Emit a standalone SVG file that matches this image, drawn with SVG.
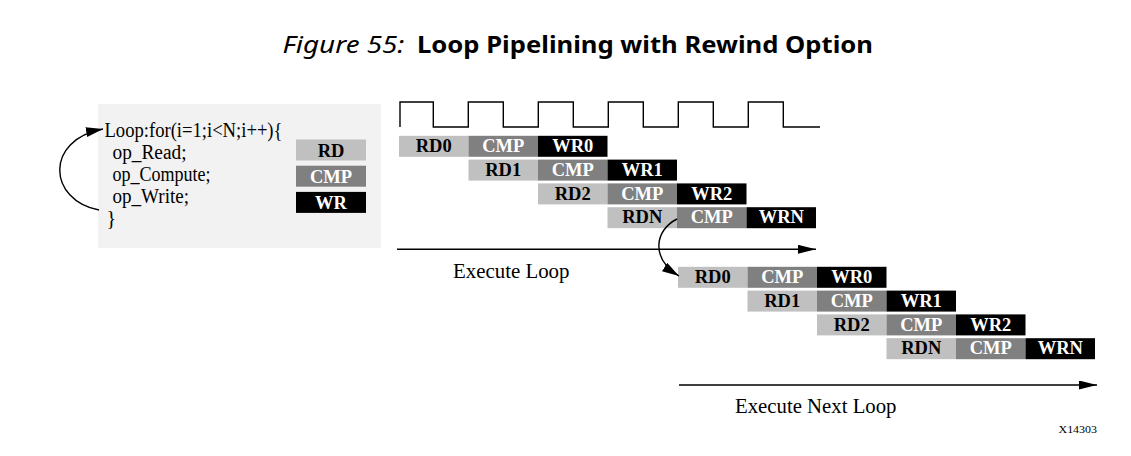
<svg xmlns="http://www.w3.org/2000/svg" width="1131" height="456" viewBox="0 0 1131 456">
<style>
.code{font-family:"Liberation Serif","Times New Roman",serif;font-size:20px;fill:#000}
.lbl{font-family:"Liberation Serif","Times New Roman",serif;font-size:18.5px;font-weight:bold;text-anchor:middle}
.cap{font-family:"Liberation Serif","Times New Roman",serif;font-size:20.5px;fill:#000}
.rd{fill:#c0c0c0}.cmp{fill:#808080}.wr{fill:#000}
.trd{fill:#000}.tcmp{fill:#fff}.twr{fill:#fff}
.ln{fill:none;stroke:#000;stroke-width:1.4}
</style>
<defs>
<marker id="ah" markerUnits="userSpaceOnUse" markerWidth="18" markerHeight="10" refX="18" refY="4.5" orient="auto">
<path d="M0,0 L18,4.5 L0,9 z" fill="#000"/>
</marker>
<marker id="ahc" markerUnits="userSpaceOnUse" markerWidth="17" markerHeight="11" refX="17" refY="5" orient="auto">
<path d="M0,0 L17,5 L0,10 z" fill="#000"/>
</marker>
</defs>
<rect width="1131" height="456" fill="#fff"/>
<g id="title">
<text x="282.5" y="53" font-family="'Noto Sans','Open Sans',sans-serif" font-size="23.5" font-style="italic" textLength="122" lengthAdjust="spacingAndGlyphs">Figure 55:</text>
<text x="417" y="53" font-family="'Noto Sans','Open Sans',sans-serif" font-size="23.5" font-weight="bold" textLength="456" lengthAdjust="spacingAndGlyphs">Loop Pipelining with Rewind Option</text>
</g>
<g id="code-box">
<rect x="98" y="104" width="283" height="144" fill="#f2f2f2"/>
<text class="code" x="104.5" y="136.5" textLength="178" lengthAdjust="spacingAndGlyphs">Loop:for(i=1;i&lt;N;i++){</text>
<text class="code" x="112.5" y="158.5" textLength="74" lengthAdjust="spacingAndGlyphs">op_Read;</text>
<text class="code" x="112.5" y="180.5" textLength="98" lengthAdjust="spacingAndGlyphs">op_Compute;</text>
<text class="code" x="112.5" y="202.5" textLength="76.5" lengthAdjust="spacingAndGlyphs">op_Write;</text>
<text class="code" x="106.5" y="224.5">}</text>
</g>
<g id="legend-rd"><rect class="rd" x="296" y="139.5" width="70" height="21"/><text class="lbl trd" x="331" y="156.5">RD</text></g>
<g id="legend-cmp"><rect class="cmp" x="296" y="165.7" width="70" height="21"/><text class="lbl tcmp" x="331" y="182.5">CMP</text></g>
<g id="legend-wr"><rect class="wr" x="296" y="191.9" width="70" height="21"/><text class="lbl twr" x="331" y="208.5">WR</text></g>
<g id="clock">
<path class="ln" d="M400,127 V102 H433.3 V127 H468.3 V102 H503.3 V127 H538.3 V102 H573.3 V127 H608.3 V102 H643.3 V127 H678.3 V102 H713.3 V127 H748.3 V102 H783.3 V127 H820"/>
</g>
<g id="loop1">
<g id="l1-rd0"><rect class="rd" x="399" y="135.8" width="69.5" height="21"/><text class="lbl trd" x="433.75" y="152">RD0</text></g>
<g id="l1-cmp0"><rect class="cmp" x="468.5" y="135.8" width="69.5" height="21"/><text class="lbl tcmp" x="503.25" y="152">CMP</text></g>
<g id="l1-wr0"><rect class="wr" x="538" y="135.8" width="69.5" height="21"/><text class="lbl twr" x="572.75" y="152">WR0</text></g>
<g id="l1-rd1"><rect class="rd" x="468.5" y="159.6" width="69.5" height="21"/><text class="lbl trd" x="503.25" y="175.8">RD1</text></g>
<g id="l1-cmp1"><rect class="cmp" x="538" y="159.6" width="69.5" height="21"/><text class="lbl tcmp" x="572.75" y="175.8">CMP</text></g>
<g id="l1-wr1"><rect class="wr" x="607.5" y="159.6" width="69.5" height="21"/><text class="lbl twr" x="642.25" y="175.8">WR1</text></g>
<g id="l1-rd2"><rect class="rd" x="538" y="183.4" width="69.5" height="21"/><text class="lbl trd" x="572.75" y="199.6">RD2</text></g>
<g id="l1-cmp2"><rect class="cmp" x="607.5" y="183.4" width="69.5" height="21"/><text class="lbl tcmp" x="642.25" y="199.6">CMP</text></g>
<g id="l1-wr2"><rect class="wr" x="677" y="183.4" width="69.5" height="21"/><text class="lbl twr" x="711.75" y="199.6">WR2</text></g>
<g id="l1-rdn"><rect class="rd" x="607.5" y="207.2" width="69.5" height="21"/><text class="lbl trd" x="642.25" y="223.4">RDN</text></g>
<g id="l1-cmpn"><rect class="cmp" x="677" y="207.2" width="69.5" height="21"/><text class="lbl tcmp" x="711.75" y="223.4">CMP</text></g>
<g id="l1-wrn"><rect class="wr" x="746.5" y="207.2" width="69.5" height="21"/><text class="lbl twr" x="781.25" y="223.4">WRN</text></g>
</g>
<g id="loop2">
<g id="l2-rd0"><rect class="rd" x="678" y="266.8" width="69.5" height="21"/><text class="lbl trd" x="712.75" y="283">RD0</text></g>
<g id="l2-cmp0"><rect class="cmp" x="747.5" y="266.8" width="69.5" height="21"/><text class="lbl tcmp" x="782.25" y="283">CMP</text></g>
<g id="l2-wr0"><rect class="wr" x="817" y="266.8" width="69.5" height="21"/><text class="lbl twr" x="851.75" y="283">WR0</text></g>
<g id="l2-rd1"><rect class="rd" x="747.5" y="290.6" width="69.5" height="21"/><text class="lbl trd" x="782.25" y="306.8">RD1</text></g>
<g id="l2-cmp1"><rect class="cmp" x="817" y="290.6" width="69.5" height="21"/><text class="lbl tcmp" x="851.75" y="306.8">CMP</text></g>
<g id="l2-wr1"><rect class="wr" x="886.5" y="290.6" width="69.5" height="21"/><text class="lbl twr" x="921.25" y="306.8">WR1</text></g>
<g id="l2-rd2"><rect class="rd" x="817" y="314.4" width="69.5" height="21"/><text class="lbl trd" x="851.75" y="330.6">RD2</text></g>
<g id="l2-cmp2"><rect class="cmp" x="886.5" y="314.4" width="69.5" height="21"/><text class="lbl tcmp" x="921.25" y="330.6">CMP</text></g>
<g id="l2-wr2"><rect class="wr" x="956" y="314.4" width="69.5" height="21"/><text class="lbl twr" x="990.75" y="330.6">WR2</text></g>
<g id="l2-rdn"><rect class="rd" x="886.5" y="338.2" width="69.5" height="21"/><text class="lbl trd" x="921.25" y="354.4">RDN</text></g>
<g id="l2-cmpn"><rect class="cmp" x="956" y="338.2" width="69.5" height="21"/><text class="lbl tcmp" x="990.75" y="354.4">CMP</text></g>
<g id="l2-wrn"><rect class="wr" x="1025.5" y="338.2" width="69.5" height="21"/><text class="lbl twr" x="1060.25" y="354.4">WRN</text></g>
</g>
<g id="connectors">
<path class="ln" d="M99,210 C48,200 44,140 103,129" marker-end="url(#ahc)"/>
<path class="ln" d="M677,219 C655,230 650,258 679,276" marker-end="url(#ahc)"/>
<path class="ln" d="M397,249.3 H816" marker-end="url(#ah)"/>
<path class="ln" d="M679,385 H1097" marker-end="url(#ah)"/>
</g>
<g id="captions">
<text class="cap" x="453" y="278" textLength="116.5" lengthAdjust="spacingAndGlyphs">Execute Loop</text>
<text class="cap" x="735" y="413" textLength="161.5" lengthAdjust="spacingAndGlyphs">Execute Next Loop</text>
<text x="1058.5" y="432.5" font-family="'Liberation Serif','Times New Roman',serif" font-size="11" textLength="38.5" lengthAdjust="spacingAndGlyphs">X14303</text>
</g>
</svg>
